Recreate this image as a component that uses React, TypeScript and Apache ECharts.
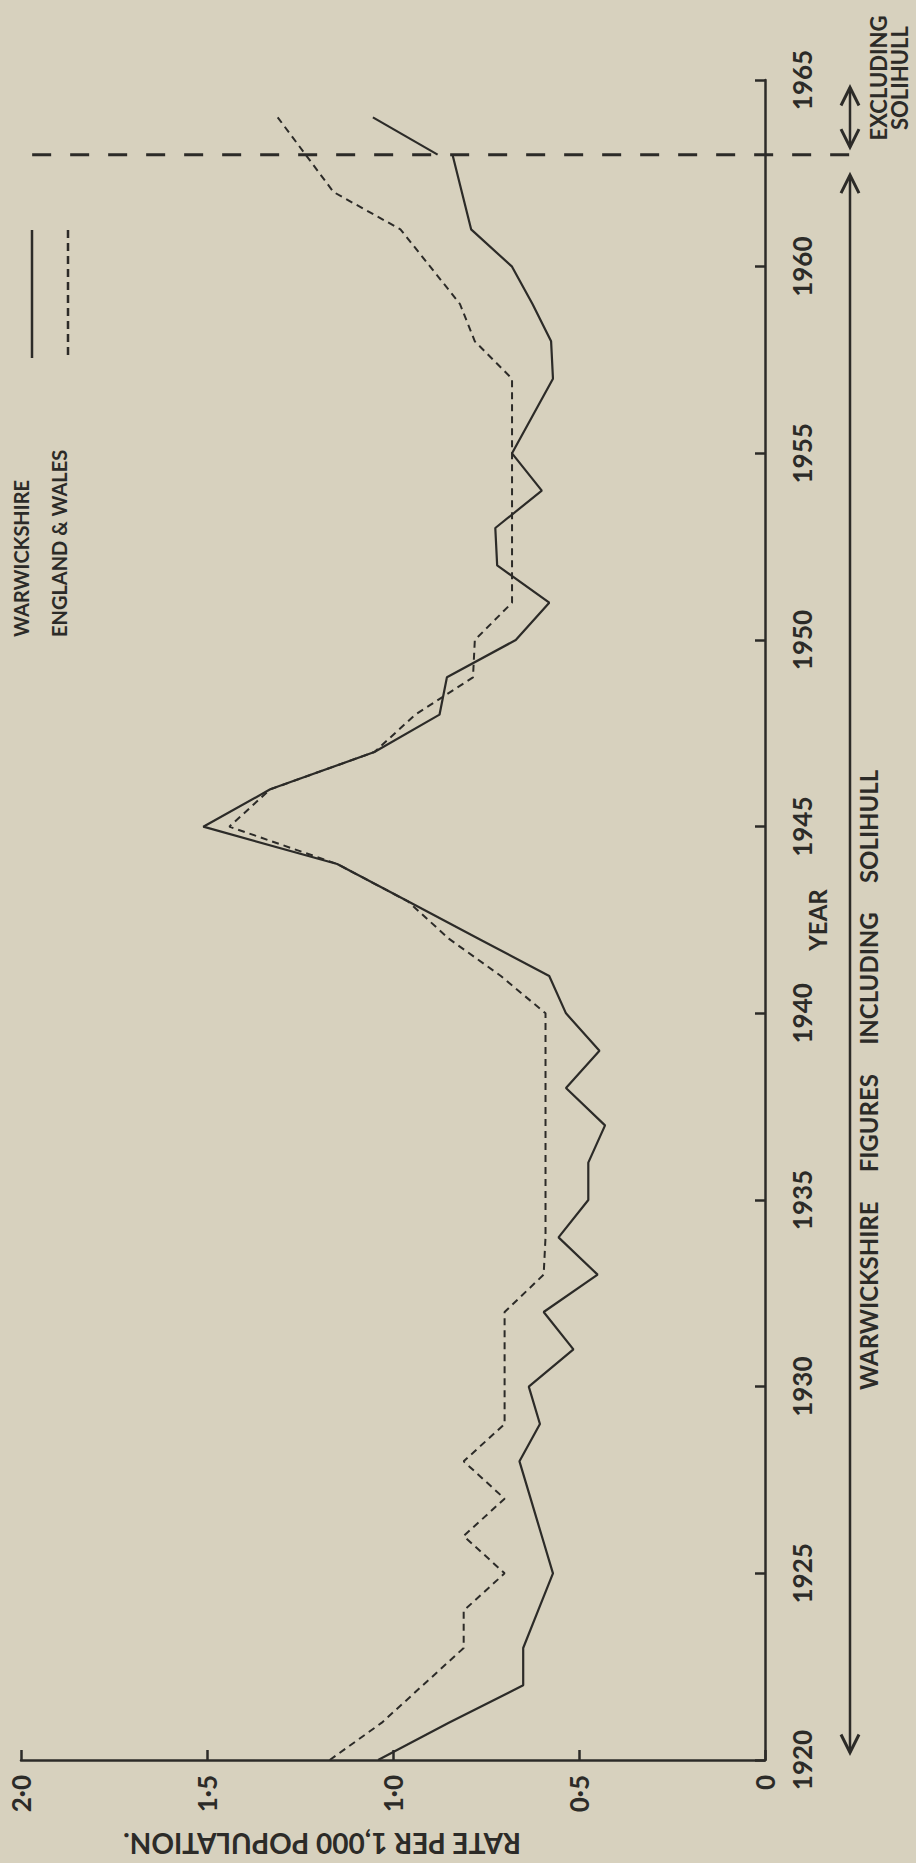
import React, { useEffect, useRef } from "react";
import * as echarts from "echarts";

// Annual rate per 1,000 population, Warwickshire (including Solihull)
const warwickshireYears = [
  1920, 1921, 1922, 1923, 1924, 1925, 1926, 1927, 1928, 1929,
  1930, 1931, 1932, 1933, 1934, 1935, 1936, 1937, 1938, 1939,
  1940, 1941, 1942, 1943, 1944, 1945, 1946, 1947, 1948, 1949,
  1950, 1951, 1952, 1953, 1954, 1955, 1956, 1957, 1958, 1959,
  1960, 1961, 1962, 1963,
];
const warwickshireRate = [
  1.04, 0.85, 0.65, 0.65, 0.61, 0.57, 0.6, 0.63, 0.66, 0.605,
  0.635, 0.515, 0.595, 0.45, 0.555, 0.475, 0.475, 0.43, 0.535, 0.445,
  0.535, 0.58, 0.77, 0.96, 1.15, 1.51, 1.33, 1.05, 0.875, 0.855,
  0.67, 0.58, 0.72, 0.725, 0.6, 0.68, 0.625, 0.57, 0.575, 0.625,
  0.68, 0.79, 0.815, 0.84,
];

// Warwickshire excluding Solihull
const warwickshireExclYears = [1963, 1964];
const warwickshireExclRate = [0.88, 1.054];

// England & Wales
const englandWalesYears = [
  1920, 1921, 1922, 1923, 1924, 1925, 1926, 1927, 1928, 1929,
  1930, 1931, 1932, 1933, 1934, 1935, 1936, 1937, 1938, 1939,
  1940, 1941, 1942, 1943, 1944, 1945, 1946, 1947, 1948, 1949,
  1950, 1951, 1952, 1953, 1954, 1955, 1956, 1957, 1958, 1959,
  1960, 1961, 1962, 1963, 1964,
];
const englandWalesRate = [
  1.17, 1.03, 0.92, 0.81, 0.81, 0.7, 0.81, 0.7, 0.81, 0.7,
  0.7, 0.7, 0.7, 0.595, 0.59, 0.59, 0.59, 0.59, 0.59, 0.59,
  0.59, 0.71, 0.85, 0.96, 1.15, 1.44, 1.33, 1.05, 0.94, 0.785,
  0.78, 0.68, 0.68, 0.68, 0.68, 0.68, 0.68, 0.68, 0.78, 0.82,
  0.9, 0.98, 1.16, 1.235, 1.31,
];

// Axis ranges
const rateRange = [0, 2];
const rateStep = 0.5;
const yearRange = [1920, 1965];
const yearStep = 5;
const boundaryYear = 1963;

const legendNames = ["WARWICKSHIRE", "ENGLAND & WALES"];
const rateTitle = "RATE PER 1,000 POPULATION.";
const yearTitle = "YEAR";
const includingNote = ["WARWICKSHIRE", "FIGURES", "INCLUDING", "SOLIHULL"];
const excludingNote = ["EXCLUDING", "SOLIHULL"];

const FONT = "Lato, 'DejaVu Sans', sans-serif";
const INK = "#2c2b28";
const PAPER = "#d7d1be";

const toPairs = (years: number[], rates: number[]) =>
  years.map((y, i) => [rates[i], y]);

const rateLabel = (v: number) =>
  v === 0 ? "0" : v.toFixed(1).replace(".", "\u00b7");

export default function App() {
  const ref = useRef<HTMLDivElement>(null);

  useEffect(() => {
    if (!ref.current) return;
    const chart = echarts.init(ref.current, null, { renderer: "svg" });

    const labelStyle = {
      color: INK,
      fontFamily: FONT,
      fontWeight: "bold" as const,
      fontSize: 26,
    };

    const option: any = {
      animation: false,
      backgroundColor: PAPER,
      grid: { left: 21, right: 151, top: 80, bottom: 103 },
      xAxis: {
        type: "value",
        min: rateRange[0],
        max: rateRange[1],
        interval: rateStep,
        inverse: true,
        axisLine: { show: true, onZero: false, lineStyle: { color: INK, width: 2.5 } },
        axisTick: { show: true, inside: true, length: 10, lineStyle: { color: INK, width: 2.5 } },
        splitLine: { show: false },
        axisLabel: {
          ...labelStyle,
          rotate: 90,
          margin: 15,
          formatter: (v: number) => rateLabel(v),
        },
      },
      yAxis: {
        type: "value",
        min: yearRange[0],
        max: yearRange[1],
        interval: yearStep,
        position: "right",
        axisLine: { show: true, onZero: false, lineStyle: { color: INK, width: 2.5 } },
        axisTick: { show: true, inside: true, length: 10, lineStyle: { color: INK, width: 2.5 } },
        splitLine: { show: false },
        axisLabel: {
          ...labelStyle,
          rotate: 90,
          margin: 24,
          formatter: (v: number) => String(v),
        },
      },
      series: [
        {
          name: legendNames[0],
          type: "line",
          data: toPairs(warwickshireYears, warwickshireRate),
          symbol: "none",
          lineStyle: { color: INK, width: 2.2 },
        },
        {
          name: legendNames[0] + " (excl.)",
          type: "line",
          data: toPairs(warwickshireExclYears, warwickshireExclRate),
          symbol: "none",
          lineStyle: { color: INK, width: 2.2 },
        },
        {
          name: legendNames[1],
          type: "line",
          data: toPairs(englandWalesYears, englandWalesRate),
          symbol: "none",
          lineStyle: { color: INK, width: 2, type: [7, 5] },
        },
      ],
    };
    chart.setOption(option);

    const px = (rate: number, year: number) =>
      chart.convertToPixel({ gridIndex: 0 }, [rate, year]) as number[];

    const axisX = px(0, yearRange[0])[0];
    const axisY = px(0, yearRange[0])[1];
    const boundaryY = px(0, boundaryYear)[1];
    const arrowX = axisX + 85;
    const head = (x: number, y: number, dir: number) => ({
      type: "polyline",
      shape: { points: [[x - 9, y - dir * 18], [x, y], [x + 9, y - dir * 18]] },
      style: { stroke: INK, lineWidth: 3, fill: null },
    });
    const vline = (x: number, y1: number, y2: number, dash?: number[]) => ({
      type: "line",
      shape: { x1: x, y1, x2: x, y2 },
      style: { stroke: INK, lineWidth: 2.5, lineDash: dash },
    });
    const text = (
      s: string,
      x: number,
      y: number,
      align: string,
      size: number,
      rotation = Math.PI / 2
    ) => ({
      type: "text",
      x,
      y,
      rotation,
      style: {
        text: s,
        fill: INK,
        font: `bold ${size}px ${FONT}`,
        align,
        verticalAlign: "middle",
      },
    });

    const longTop = px(0, 1962.45)[1];
    const longBottom = px(0, 1920.2)[1];
    const shortTop = px(0, 1964.8)[1];
    const shortBottom = px(0, 1963.2)[1];
    const topY = px(0, yearRange[1])[1];
    const midYearY = px(0, (yearRange[0] + yearRange[1]) / 2)[1];

    const graphics: any[] = [
      // boundary where Solihull leaves the county figures
      {
        type: "line",
        shape: { x1: px(1.97, boundaryYear)[0], y1: boundaryY, x2: axisX + 103, y2: boundaryY },
        style: { stroke: INK, lineWidth: 3, lineDash: [19, 19] },
      },
      vline(arrowX, longTop, longBottom),
      head(arrowX, longTop, -1),
      head(arrowX, longBottom, 1),
      vline(arrowX, shortTop, shortBottom),
      head(arrowX, shortTop, -1),
      head(arrowX, shortBottom, 1),
      // legend
      vline(32, 230, 358),
      vline(68, 230, 358, [8, 5]),
      text(legendNames[0], 21, 637, "left", 20),
      text(legendNames[1], 59, 637, "left", 20),
      // axis titles; the rate title sits upside down as on the turned page
      text(rateTitle, 322, axisY + 84, "center", 28, Math.PI),
      text(yearTitle, axisX + 52, midYearY, "center", 24),
      // notes beside the year axis
      text(includingNote.join("     "), 868, 1390, "left", 24),
      text(excludingNote[0], 878, topY - 2, "center", 22),
      text(excludingNote[1], 899, topY - 2, "center", 22),
    ];
    chart.setOption({ graphic: graphics });

    return () => chart.dispose();
  }, []);

  return (
    <div
      ref={ref}
      style={{
        position: "absolute",
        left: 0,
        top: 0,
        width: 916,
        height: 1863,
        background: PAPER,
      }}
    />
  );
}
